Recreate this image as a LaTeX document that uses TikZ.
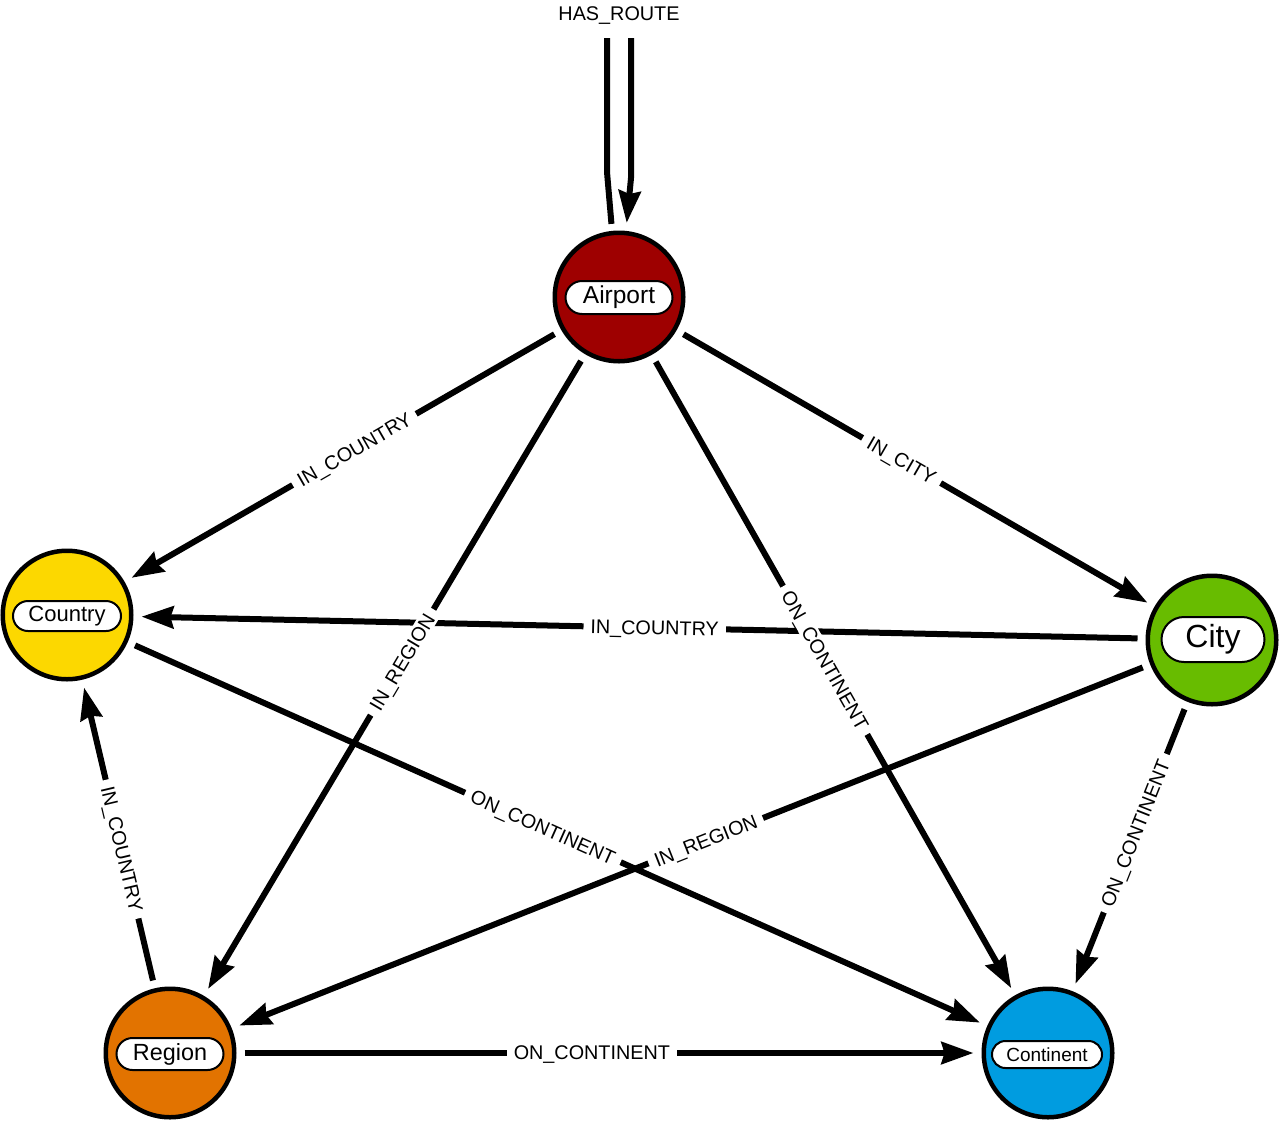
\documentclass[tikz,border=0pt]{standalone}
\usepackage{fontspec}
\setmainfont{Liberation Sans}
\usetikzlibrary{arrows.meta,shapes.misc}
\definecolor{cAirport}{RGB}{158,0,0}
\definecolor{cCountry}{RGB}{252,216,0}
\definecolor{cCity}{RGB}{104,188,0}
\definecolor{cRegion}{RGB}{226,115,0}
\definecolor{cContinent}{RGB}{0,156,224}
\tikzset{
 ent/.style={circle, draw=black, line width=4.5pt, minimum size=128.5pt, inner sep=0pt},
 pill/.style={rounded rectangle, draw=black, fill=white, line width=2pt, inner sep=0pt},
 edge/.style={line width=6pt, line join=round, shorten <=8pt, shorten >=8pt, -{Stealth[length=32pt,width=22pt,inset=3pt]}},
 elab/.style={sloped, fill=white, inner xsep=7pt, inner ysep=2.5pt, text depth=0pt, font=\fontsize{19.8pt}{21pt}\selectfont},
}
\begin{document}
\begin{tikzpicture}[x=1pt,y=-1pt]
\useasboundingbox (0,0) rectangle (1280,1122);
% entities
\node[ent, fill=cAirport] (a) at (619,297) {};
\node[pill, minimum width=107pt, minimum height=33pt, font=\fontsize{24.5pt}{26pt}\selectfont] (al) at (619,297.5) {Airport};
\node[ent, fill=cCountry] (co) at (67,615) {};
\node[pill, minimum width=108pt, minimum height=30pt, font=\fontsize{22pt}{24pt}\selectfont] (col) at (67,616) {Country};
\node[ent, fill=cCity] (ci) at (1212,640) {};
\node[pill, minimum width=103pt, minimum height=45pt, font=\fontsize{32pt}{34pt}\selectfont] (cil) at (1213,639.5) {City};
\node[ent, fill=cRegion] (r) at (170,1053) {};
\node[pill, minimum width=107pt, minimum height=32pt, font=\fontsize{23.4pt}{25pt}\selectfont] (rl) at (170,1054) {Region};
\node[ent, fill=cContinent] (ct) at (1048,1053) {};
\node[pill, minimum width=110pt, minimum height=27pt, font=\fontsize{19pt}{21pt}\selectfont] (ctl) at (1047,1054.5) {Continent};
% self loop
\coordinate (l1) at (607,172);
\coordinate (l2) at (607,38);
\coordinate (r2) at (631,38);
\coordinate (r1) at (631,178);
\node[font=\fontsize{19.8pt}{21pt}\selectfont] (hr) at (619,16) {HAS\_ROUTE};
\draw[line width=6pt, line join=round, shorten <=7pt] (a.96) -- (l1) -- (l2);
\draw[edge, shorten <=0pt] (r2) -- (r1) -- (a.84);
% edges
\draw[edge] (a) -- (co);
\draw[edge] (a) -- (r);
\draw[edge] (a) -- (ct);
\draw[edge] (a) -- (ci);
\draw[edge] (ci) -- (co);
\draw[edge] (ci) -- (r);
\draw[edge] (ci) -- (ct);
\draw[edge] (co) -- (ct);
\draw[edge] (r) -- (co);
\draw[edge] (r) -- (ct);
% edge labels (on top of all edges)
\path (a) -- node[elab, pos=0.474] {IN\_COUNTRY} (co);
\path (a) -- node[elab, pos=0.48] {IN\_REGION} (r);
\path (a) -- node[elab, pos=0.477] {ON\_CONTINENT} (ct);
\path (a) -- node[elab, pos=0.471] {IN\_CITY} (ci);
\path (ci) -- node[elab, pos=0.485] {IN\_COUNTRY} (co);
\path (ci) -- node[elab, pos=0.484] {IN\_REGION} (r);
\path (ci) -- node[elab, pos=0.454] {ON\_CONTINENT} (ct);
\path (co) -- node[elab, pos=0.483] {ON\_CONTINENT} (ct);
\path (r) -- node[elab, pos=0.451] {IN\_COUNTRY} (co);
\path (r) -- node[elab, pos=0.477] {ON\_CONTINENT} (ct);
\end{tikzpicture}
\end{document}
